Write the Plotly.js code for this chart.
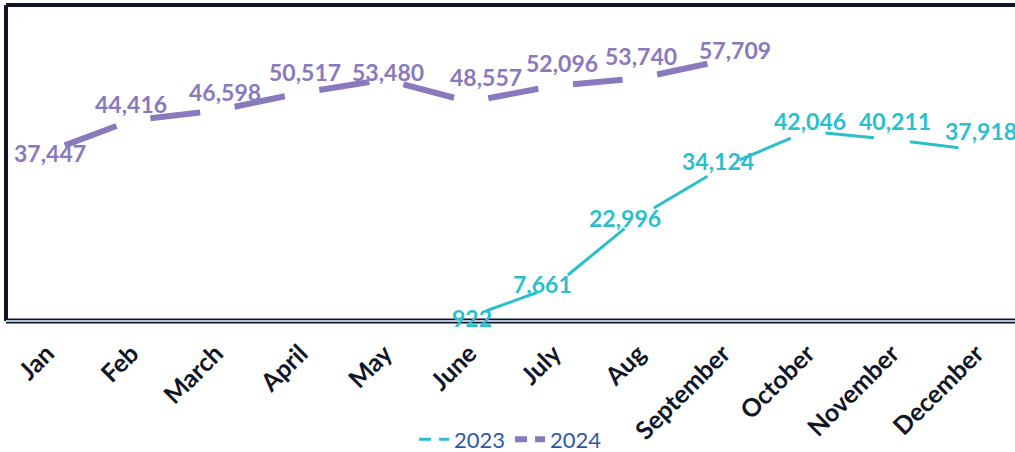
<!DOCTYPE html>
<html>
<head>
<meta charset="utf-8">
<script src="https://cdn.plot.ly/plotly-3.0.1.min.js"></script>
<style>
  body { margin: 0; background: #fff; }
  #viz { width: 1015px; height: 452px; }
</style>
</head>
<body>
<div id="viz"></div>
<script>
var months = ['Jan', 'Feb', 'March', 'April', 'May', 'June', 'July', 'Aug',
              'September', 'October', 'November', 'December'];
var sales2023 = [null, null, null, null, null, 922, 7661, 22996, 34124, 42046, 40211, 37918];
var sales2024 = [37447, 44416, 46598, 50517, 53480, 48557, 52096, 53740, 57709, null, null, null];

var teal = '#2BBFCE';
var purple = '#8979BD';
var dark = '#0F1626';

var W = 1015, H = 452;
var m = {l: 6, r: 0, t: 5, b: 131, autoexpand: false};
var xRange = [-0.485, 11.456];
var yRange = [0, 70000];

// label nudges in px [dx, dy up], excel had them dragged by hand
var nudge2023 = [null, null, null, null, null, [3, -1], [-11, 2], [-13, -1], [-5, 6], [3, 10], [3, 18], [5, 19]];
var nudge2024 = [[3, -1], [0, 16], [9, 19], [5, 21], [3, 8], [17, 25], [8, 23], [3, 22], [12, 10], null, null, null];

// excel draws one dash per segment with a gap round every point,
// so build the dash list from the segment lengths in pixels
function segmentDash(vals, gapStart, gapEnd) {
  var pxX = (W - m.l - m.r) / (xRange[1] - xRange[0]);
  var pxY = (H - m.t - m.b) / (yRange[1] - yRange[0]);
  var parts = [0, gapStart];
  var prev = null;
  for (var i = 0; i < vals.length; i++) {
    if (vals[i] == null) continue;
    if (prev != null) {
      var len = Math.hypot((i - prev) * pxX, (vals[i] - vals[prev]) * pxY);
      parts.push((len - gapStart - gapEnd).toFixed(1), gapStart + gapEnd);
    }
    prev = i;
  }
  return parts.map(function (p) { return p + 'px'; }).join(',');
}

function labels(vals, nudge, color) {
  var out = [];
  vals.forEach(function (v, i) {
    if (v == null) return;
    out.push({
      x: months[i], y: v,
      xref: 'x', yref: 'y',
      text: v.toLocaleString('en-US'),
      showarrow: false,
      xshift: nudge[i][0], yshift: nudge[i][1],
      font: {family: 'Lato, sans-serif', size: 23, weight: 700, color: color}
    });
  });
  return out;
}

var line2023 = {
  x: months, y: sales2023,
  mode: 'lines',
  showlegend: false,
  line: {color: teal, width: 3, dash: segmentDash(sales2023, 18, 18)},
  hoverinfo: 'skip'
};

var line2024 = {
  x: months, y: sales2024,
  mode: 'lines',
  showlegend: false,
  line: {color: purple, width: 6, dash: segmentDash(sales2024, 19, 16)},
  hoverinfo: 'skip'
};

// legend entries with the plain dashed symbol
var key2023 = {x: [null], y: [null], mode: 'lines', name: '2023',
               line: {color: teal, width: 3, dash: '12px,8px'}};
var key2024 = {x: [null], y: [null], mode: 'lines', name: '2024',
               line: {color: purple, width: 6, dash: '12px,8px'}};

var data = [line2023, line2024, key2023, key2024];

var layout = {
  width: W, height: H,
  margin: m,
  paper_bgcolor: '#fff',
  plot_bgcolor: '#fff',
  showlegend: true,
  xaxis: {
    type: 'category',
    range: xRange,
    showgrid: false, zeroline: false, showline: false,
    ticks: '',
    tickangle: -45,
    ticklabelstandoff: 12,
    tickfont: {family: 'Lato, sans-serif', size: 25, color: dark, weight: 700},
    automargin: false,
    fixedrange: true
  },
  yaxis: {
    range: yRange,
    showgrid: false, zeroline: false, showline: false,
    showticklabels: false, ticks: '',
    fixedrange: true
  },
  legend: {
    orientation: 'h',
    x: 0.5, xanchor: 'center',
    y: -0.375, yanchor: 'middle',
    font: {family: 'Lato, sans-serif', size: 22, color: '#2F57A5'},
    bgcolor: 'rgba(0,0,0,0)'
  },
  annotations: labels(sales2023, nudge2023, teal).concat(labels(sales2024, nudge2024, purple)),
  shapes: [
    {type: 'line', xref: 'paper', yref: 'paper', x0: 0, x1: 0, y0: 0, y1: 1,
     line: {color: dark, width: 4}, layer: 'below'},
    {type: 'line', xref: 'paper', yref: 'paper', x0: 0, x1: 1, y0: 1, y1: 1,
     line: {color: dark, width: 4}, layer: 'below'},
    {type: 'line', xref: 'paper', yref: 'paper', x0: 0, x1: 1, y0: 0, y1: 0,
     line: {color: dark, width: 5}, layer: 'below'},
    {type: 'line', xref: 'paper', yref: 'paper', x0: 0, x1: 1, y0: 0, y1: 0,
     line: {color: '#B7C2D6', width: 2}, layer: 'below'}
  ]
};

Plotly.newPlot('viz', data, layout, {displayModeBar: false, staticPlot: true});
</script>
</body>
</html>
